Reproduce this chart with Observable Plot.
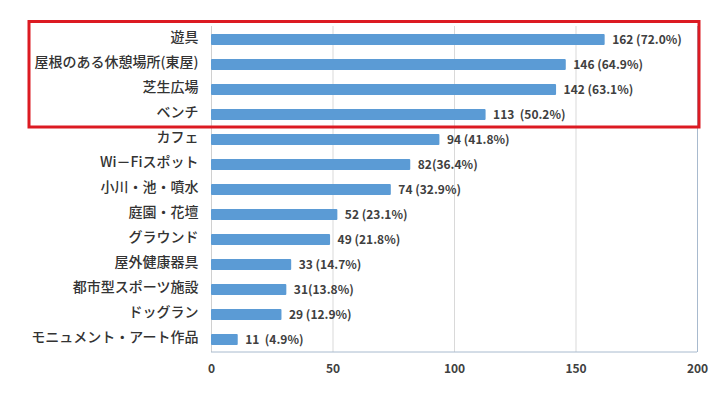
<!DOCTYPE html>
<html><head><meta charset="utf-8">
<script src="https://cdn.jsdelivr.net/npm/d3@7"></script>
<script src="https://cdn.jsdelivr.net/npm/@observablehq/plot@0.6"></script>
<style>
body{margin:0;background:#fff}
#chart{position:relative;width:718px;height:398px}
#chart svg text{white-space:pre}
</style>
</head><body><div id="chart"></div>
<script>
const categories = ["遊具","屋根のある休憩場所(東屋)","芝生広場","ベンチ","カフェ","Wi－Fiスポット","小川・池・噴水","庭園・花壇","グラウンド","屋外健康器具","都市型スポーツ施設","ドッグラン","モニュメント・アート作品"];
const counts = [162,146,142,113,94,82,74,52,49,33,31,29,11];
const valueLabels = ["162 (72.0%)","146 (64.9%)","142 (63.1%)","113  (50.2%)","94 (41.8%)","82(36.4%)","74 (32.9%)","52 (23.1%)","49 (21.8%)","33 (14.7%)","31(13.8%)","29 (12.9%)","11  (4.9%)"];
const xTicks = [0,50,100,150,200];
const gridTicks = [50,100,150];
const highlightFirst = "遊具";
const highlightLast = "ベンチ";

const data = categories.map((c,i)=>({category:c,count:counts[i],label:valueLabels[i]}));

const plot = Plot.plot({
  width:718, height:398,
  marginLeft:211, marginRight:21, marginTop:26, marginBottom:46,
  style:{fontFamily:"'Noto Sans CJK JP', sans-serif", background:"#fff", color:"#404040"},
  x:{domain:[0,200], ticks:xTicks, label:null},
  y:{domain:categories, paddingInner:0.56, paddingOuter:0.3, label:null},
  marks:[
    Plot.ruleX(gridTicks,{stroke:"#d9d9d9"}),
    Plot.ruleX([0],{stroke:"#d0d0d0"}),
    Plot.ruleX([200],{stroke:"#a8bace"}),
    Plot.barX(data,{x:"count",y:"category",fill:"#5b9bd5",rx:1}),
    Plot.text(data,{x:"count",y:"category",text:"label",textAnchor:"start",dx:7,fontWeight:"bold",fontSize:12,fill:"#404040"}),
    Plot.axisY({tickSize:0,tickPadding:13,fontSize:14,fontWeight:500,dy:-2,label:null,fill:"#333333"}),
    Plot.axisX({ticks:xTicks,tickSize:0,tickPadding:12,fontSize:12,fontWeight:"bold",label:null,fill:"#404040"})
  ]
});
document.getElementById("chart").appendChild(plot);

const xs = plot.scale("x"), ys = plot.scale("y");
const svg = d3.select(plot);
const yBottom = d3.max(ys.range);
const [x0, x1] = xs.range;
// bottom axis line
svg.append("line").attr("x1",x0).attr("x2",x1).attr("y1",yBottom).attr("y2",yBottom)
  .attr("stroke","#a8bace");
// highlight box around the top group
const step = ys.step;
const rTop = ys.apply(highlightFirst) - step*0.5;
const rBottom = ys.apply(highlightLast) + ys.bandwidth + step*0.28;
svg.append("rect").attr("x",29).attr("y",rTop).attr("width",x1+2-29).attr("height",rBottom-rTop)
  .attr("fill","none").attr("stroke","#dc1a22").attr("stroke-width",3);
</script>
</body></html>
